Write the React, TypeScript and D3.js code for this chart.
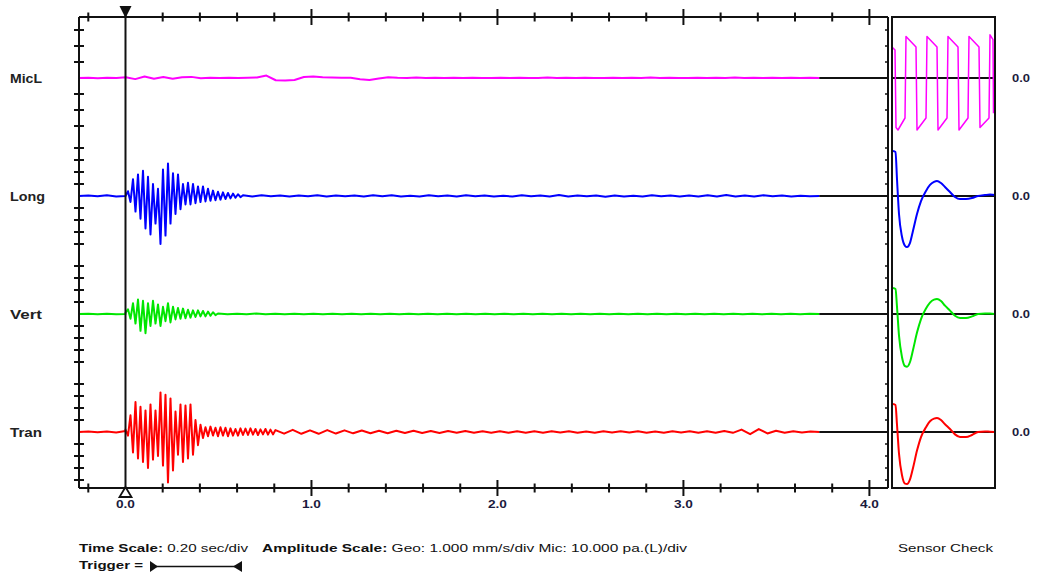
import React from "react";
import * as d3 from "d3";

// ---------------- DATA ----------------
const channels = ["MicL", "Long", "Vert", "Tran"];
const channelColors = ["#ff00ff", "#0000ff", "#00e600", "#ff0000"];
const channelUnits = ["mic", "geo", "geo", "geo"];

const timeTicks = [-0.2, 0.2, 0.4, 0.6, 0.8, 1.0, 1.2, 1.4, 1.6, 1.8, 2.0, 2.2, 2.4, 2.6, 2.8, 3.0, 3.2, 3.4, 3.6, 3.8, 4.0];
const timeMajor = [1.0, 2.0, 3.0, 4.0];
const timeLabels = [0.0, 1.0, 2.0, 3.0, 4.0];

const geoTicks = [-4, -3, -2, -1, 1, 2, 3, 4]; // mm/s
const micTicks = [-30, -20, -10, 10, 20, 30]; // Pa

const TRACE_START = -0.25;
const TRACE_END = 3.73;
const BURST_DT = 0.01344;

// MicL (Pa) sampled over the whole record
const micSamples = [
  0, 0.1, -0.1, 0.1, 0, 0.5, -0.7, 0.9, -0.5, 0.6,
  -0.4, 0.5, 0.7, -0.2, 0.1, 0, 0.1, 0, 0.2, 0.3,
  1.5, -1.4, -1.6, -1.2, 0.6, 1.0, 0.5, 0.3, 0.2, 0.1,
  -0.8, -1.3, -0.3, 0.5, 0.1, 0, 0.3, 0, 0.1, 0,
  0.2, 0, 0.1, 0, 0, 0.2, 0, 0.1, 0, 0,
  0.3, 0, 0.1, 0, 0.2, 0, 0, 0.1, 0, 0.2,
  0, 0.3, 0, 0.1, 0, 0, 0.2, 0, 0.1, 0,
  0.3, 0, 0.1, 0, 0.2, 0, 0.1, 0, 0.1, 0,
];

// Long (mm/s)
const longPre = [0, 0.05, -0.03, 0.06, -0.04, 0];
const longBurst = [
  0, 0.4, -0.5, 1.4, -1.3, 1.8, -1.9, 2.1, -2.7, 1.6,
  -3.2, 1.0, -2.3, 0.6, -4.0, 2.2, -3.3, 2.7, -2.3, 1.9,
  -1.5, 1.8, -1.1, 1.0, -0.7, 1.1, -0.7, 1.0, -0.6, 0.8,
  -0.5, 0.8, -0.45, 0.6, -0.4, 0.45, -0.35, 0.35, -0.3, 0.3,
  -0.25, 0.25, -0.2, 0.2, -0.15, 0.15, -0.1,
];
const longTail = [
  0.06, -0.04, 0.07, -0.03, 0.05, -0.05, 0.04, -0.03, 0.07, -0.04,
  0.05, -0.03, 0.04, -0.05, 0.06, -0.03, 0.07, -0.04, 0.03, -0.05,
  0.06, -0.03, 0.04, -0.05, 0.07, -0.03, 0.05, -0.04, 0.03, -0.05,
  0.07, -0.03, 0.05, -0.04, 0.08, -0.05, 0.04, -0.03, 0.05, -0.06,
  0.05, -0.04, 0.03, -0.05, 0.07, -0.03, 0.05, -0.04, 0.04, -0.05,
  0.07, -0.05, 0.08, -0.04, 0.05, -0.05, 0.07, -0.03, 0.04, -0.05,
  0.03, -0.02, 0,
];

// Vert (mm/s)
const vertPre = [0, 0.03, -0.02, 0.03, -0.03, 0];
const vertBurst = [
  0.1, 0.4, -0.4, 0.9, -0.8, 1.2, -1.4, 1.1, -1.6, 0.9,
  -1.0, 1.1, -0.8, 0.8, -1.0, 0.6, -0.6, 0.9, -0.7, 0.6,
  -0.45, 0.5, -0.4, 0.45, -0.35, 0.35, -0.3, 0.3, -0.25, 0.3,
  -0.2, 0.25, -0.2, 0.2, -0.15, 0.15, -0.1,
];
const vertTail = [
  0.04, -0.03, 0.03, -0.03, 0.04, -0.03, 0.03, -0.02, 0.03, -0.03,
  0.02, -0.03, 0.03, -0.02, 0.03, -0.03, 0.02, -0.03, 0.03, -0.02,
  0.03, -0.02, 0.03, -0.03, 0.02, -0.03, 0.03, -0.02, 0.03, -0.03,
  0.02, -0.03, 0.03, -0.02, 0.03, -0.03, 0.02, -0.03, 0.03, -0.02,
  0.03, -0.02, 0.03, -0.03, 0.02, -0.03, 0.03, -0.02, 0.03, -0.03,
  0.02, -0.03, 0.03, -0.02, 0.03, -0.03, 0.02, -0.03, 0.03, -0.02,
  0.03, -0.02, 0.02, 0,
];

// Tran (mm/s)
const tranPre = [0, 0.04, -0.03, 0.05, -0.04, 0.08];
const tranBurst = [
  0.2, -0.3, 1.4, -1.7, 2.5, -2.2, 2.1, -2.5, 1.8, -3.0,
  2.3, -2.3, 1.8, -2.0, 3.3, -2.8, 3.1, -4.2, 2.8, -3.2,
  1.7, -1.9, 2.3, -2.5, 2.2, -2.2, 2.3, -1.9, 1.0, -1.1,
  0.6, -0.5, 0.4, -0.35, 0.45, -0.3, 0.35, -0.35, 0.4, -0.3,
  0.35, -0.35, 0.3, -0.3, 0.25, -0.3, 0.3, -0.25, 0.28, -0.25,
  0.3, -0.22, 0.25, -0.25, 0.22, -0.2, 0.25, -0.22, 0.2, -0.2,
];
const tranTail = [
  0.16, -0.14, 0.18, -0.15, 0.14, -0.15, 0.16, -0.13, 0.14, -0.11,
  0.12, -0.1, 0.11, -0.1, 0.1, -0.09, 0.1, -0.08, 0.09, -0.08,
  0.08, -0.07, 0.08, -0.07, 0.07, -0.06, 0.07, -0.06, 0.07, -0.06,
  0.06, -0.06, 0.07, -0.05, 0.06, -0.06, 0.05, -0.06, 0.06, -0.05,
  0.06, -0.05, 0.06, -0.06, 0.05, -0.06, 0.06, -0.05, 0.07, -0.06,
  0.06, -0.07, 0.08, -0.07, 0.2, -0.18, 0.24, -0.12, 0.1, -0.07,
  0.06, -0.05, 0.04, 0,
];

// Sensor check traces: [ms, value]
const sensorMic: [number, number][] = [
  [0, 19.4], [3, 17.5], [4, -31], [6, -32.5], [13, -25], [14, 26],
  [24, 19.4], [25, -32.5], [34, -25], [35, 26], [45, 19.4], [46, -32.5],
  [55, -25], [56, 26], [66, 19.4], [67, -32.5], [76, -25], [77, 26],
  [87, 19.4], [88, -31], [97, -25], [98, 27], [101, 24], [101.5, -22],
];
const sensorLong: [number, number][] = [
  [1, 3.75], [3.5, 3.67], [5, 1.4], [7, -1.5], [10, -3.4], [13, -4.15], [15, -4.25],
  [18, -3.9], [21, -2.9], [25, -1.5], [29, -0.42], [34, 0.42], [38, 0.92], [42, 1.17],
  [45, 1.25], [49, 1.08], [53, 0.75], [58, 0.33], [63, -0.08], [68, -0.25], [74, -0.25],
  [80, -0.17], [86, 0], [93, 0.08], [98, 0.12], [103, 0.08],
];
const sensorVert: [number, number][] = [
  [1, 2.17], [3.5, 2.08], [5, 0.6], [7, -1.8], [10, -3.6], [13, -4.35], [15, -4.4],
  [18, -4.0], [21, -3.0], [25, -1.55], [29, -0.42], [34, 0.45], [38, 0.95], [42, 1.2],
  [45, 1.25], [49, 1.08], [53, 0.7], [58, 0.28], [63, -0.15], [68, -0.33], [74, -0.33],
  [80, -0.2], [86, 0], [93, 0.05], [98, 0.04], [103, 0],
];
const sensorTran: [number, number][] = [
  [1, 2.33], [3.5, 2.25], [5, 0.6], [7, -1.8], [10, -3.6], [13, -4.3], [15, -4.33],
  [18, -3.95], [21, -3.0], [25, -1.55], [29, -0.42], [34, 0.4], [38, 0.9], [42, 1.12],
  [45, 1.17], [49, 1.0], [53, 0.65], [58, 0.25], [63, -0.2], [68, -0.42], [74, -0.42],
  [80, -0.25], [86, 0], [93, 0.05], [98, 0.02], [103, 0],
];

// ---------------- HELPERS ----------------
type Pt = [number, number];

function buildGeo(pre: number[], burst: number[], tail: number[]): Pt[] {
  const pts: Pt[] = [];
  const preDt = (0 - TRACE_START) / (pre.length - 1);
  pre.forEach((v, i) => pts.push([TRACE_START + i * preDt, v]));
  burst.forEach((v, i) => pts.push([i * BURST_DT, v]));
  const tailStart = burst.length * BURST_DT;
  const tailDt = (TRACE_END - tailStart) / (tail.length - 1);
  tail.forEach((v, i) => pts.push([tailStart + i * tailDt, v]));
  return pts;
}

function buildMic(samples: number[]): Pt[] {
  const dt = (TRACE_END - TRACE_START) / (samples.length - 1);
  return samples.map((v, i) => [TRACE_START + i * dt, v]);
}

const traces: Pt[][] = [
  buildMic(micSamples),
  buildGeo(longPre, longBurst, longTail),
  buildGeo(vertPre, vertBurst, vertTail),
  buildGeo(tranPre, tranBurst, tranTail),
];
const sensorTraces: Pt[][] = [sensorMic, sensorLong, sensorVert, sensorTran];

// ---------------- LAYOUT ----------------
const W = 1037;
const H = 577;
const plotL = 79;
const plotR = 888;
const plotT = 17;
const plotB = 488;
const sensL = 892;
const sensR = 995;

const FONT = "'Liberation Sans', Arial, sans-serif";

export default function App() {
  const x = d3.scaleLinear().domain([-0.25, 4.1]).range([plotL, plotR]);
  const xs = d3.scaleLinear().domain([0, 103]).range([sensL, sensR]);
  const yBase = d3.scalePoint<string>().domain(channels).range([78, 432]);
  const geoAmp = d3.scaleLinear().domain([-1, 1]).range([12, -12]);
  const micAmp = d3.scaleLinear().domain([-10, 10]).range([16, -16]);
  const ampFor = (i: number) => (channelUnits[i] === "mic" ? micAmp : geoAmp);

  const yTicks: { y: number }[] = [];
  channels.forEach((c, i) => {
    const ticks = channelUnits[i] === "mic" ? micTicks : geoTicks;
    ticks.forEach((t) => yTicks.push({ y: (yBase(c) as number) + ampFor(i)(t) }));
  });

  return (
    <svg width={W} height={H} style={{ display: "block", position: "absolute", left: 0, top: 0, background: "#fff" }}>
      <rect x={0} y={0} width={W} height={H} fill="#fff" />

      {/* channel baselines (after trace end) */}
      {channels.map((c, i) => (
        <g key={"base" + c}>
          <line x1={x(TRACE_END)} x2={plotR} y1={yBase(c)} y2={yBase(c)} stroke="#111" strokeWidth={2} />
          <line x1={sensL} x2={sensR} y1={yBase(c)} y2={yBase(c)} stroke="#111" strokeWidth={2} />
        </g>
      ))}

      {/* main traces */}
      {traces.map((pts, i) => {
        const yb = yBase(channels[i]) as number;
        const amp = ampFor(i);
        const line = d3
          .line<Pt>()
          .x((d) => x(d[0]))
          .y((d) => yb + amp(d[1]));
        return (
          <path key={"tr" + i} d={line(pts) || ""} fill="none" stroke={channelColors[i]} strokeWidth={2} strokeLinejoin="round" />
        );
      })}

      {/* sensor check traces */}
      {sensorTraces.map((pts, i) => {
        const yb = yBase(channels[i]) as number;
        const amp = ampFor(i);
        const line = d3
          .line<Pt>()
          .x((d) => xs(d[0]))
          .y((d) => yb + amp(d[1]))
          .curve(i === 0 ? d3.curveLinear : d3.curveMonotoneX);
        return (
          <path key={"ss" + i} d={line(pts) || ""} fill="none" stroke={channelColors[i]} strokeWidth={i === 0 ? 1.5 : 2} strokeLinejoin="round" />
        );
      })}

      {/* frames */}
      <line x1={plotL} x2={plotL} y1={plotT} y2={plotB} stroke="#111" strokeWidth={2} />
      <line x1={plotL} x2={plotR} y1={plotT} y2={plotT} stroke="#111" strokeWidth={2} />
      <line x1={plotL} x2={plotR} y1={plotB} y2={plotB} stroke="#111" strokeWidth={2} />
      <line x1={plotR} x2={plotR} y1={plotT} y2={plotB} stroke="#111" strokeWidth={2} />
      <rect x={sensL} y={plotT} width={sensR - sensL} height={plotB - plotT} fill="none" stroke="#111" strokeWidth={2} />

      {/* left axis ticks + right inward ticks */}
      {yTicks.map((t, i) => (
        <g key={"yt" + i}>
          <line x1={plotL - 5} x2={plotL + 5} y1={t.y} y2={t.y} stroke="#111" strokeWidth={2} />
          <line x1={plotR - 3} x2={plotR} y1={t.y} y2={t.y} stroke="#111" strokeWidth={1.5} />
        </g>
      ))}

      {/* time axis ticks (top & bottom) */}
      {timeTicks.map((t, i) => {
        const major = timeMajor.some((m) => Math.abs(m - t) < 1e-6);
        const h = major ? 8 : 4.5;
        return (
          <g key={"tt" + i}>
            <line x1={x(t)} x2={x(t)} y1={plotT - h} y2={plotT + h} stroke="#111" strokeWidth={2} />
            <line x1={x(t)} x2={x(t)} y1={plotB - h} y2={plotB + h} stroke="#111" strokeWidth={2} />
          </g>
        );
      })}

      {/* trigger line and markers */}
      <line x1={x(0)} x2={x(0)} y1={8} y2={plotB} stroke="#111" strokeWidth={2} />
      <path d={`M${x(0) - 6},6 L${x(0) + 6},6 L${x(0)},18 Z`} fill="#111" />
      <path d={`M${x(0)},487 L${x(0) + 6},497 L${x(0) - 6},497 Z`} fill="#fff" stroke="#111" strokeWidth={1.8} />

      {/* time labels */}
      {timeLabels.map((t) => (
        <text key={"tl" + t} x={x(t)} y={508} textAnchor="middle" fontFamily={FONT} fontWeight="bold" fontSize={10.5} fill="#1a1a3c" textLength={19} lengthAdjust="spacingAndGlyphs">
          {t.toFixed(1)}
        </text>
      ))}

      {/* channel names */}
      {channels.map((c) => (
        <text key={"cn" + c} x={10} y={(yBase(c) as number) + 4.5} fontFamily={FONT} fontWeight="bold" fontSize={12} fill="#222" textLength={c === "Long" ? 35 : 32} lengthAdjust="spacingAndGlyphs">
          {c}
        </text>
      ))}

      {/* right 0.0 labels */}
      {channels.map((c) => (
        <text key={"zl" + c} x={1012} y={(yBase(c) as number) + 4} fontFamily={FONT} fontWeight="bold" fontSize={10} fill="#1a1a3c" textLength={18} lengthAdjust="spacingAndGlyphs">
          0.0
        </text>
      ))}

      {/* footer */}
      <text x={79} y={552} fontFamily={FONT} fontSize={11} fill="#111" textLength={169} lengthAdjust="spacingAndGlyphs">
        <tspan fontWeight="bold">Time Scale:</tspan>
        <tspan> 0.20 sec/div</tspan>
      </text>
      <text x={262} y={552} fontFamily={FONT} fontSize={11} fill="#111" textLength={425} lengthAdjust="spacingAndGlyphs">
        <tspan fontWeight="bold">Amplitude Scale:</tspan>
        <tspan> Geo: 1.000 mm/s/div Mic: 10.000 pa.(L)/div</tspan>
      </text>
      <text x={79} y={569} fontFamily={FONT} fontSize={11} fontWeight="bold" fill="#111" textLength={64} lengthAdjust="spacingAndGlyphs">
        Trigger =
      </text>
      <path d="M150,561 L158,566.5 L150,572 Z" fill="#111" />
      <line x1={155} x2={236} y1={566.5} y2={566.5} stroke="#111" strokeWidth={1.5} />
      <path d="M242,561 L233,566.5 L242,572 Z" fill="#111" />
      <text x={898} y={552} fontFamily={FONT} fontSize={11} fill="#111" textLength={95} lengthAdjust="spacingAndGlyphs">
        Sensor Check
      </text>
    </svg>
  );
}
